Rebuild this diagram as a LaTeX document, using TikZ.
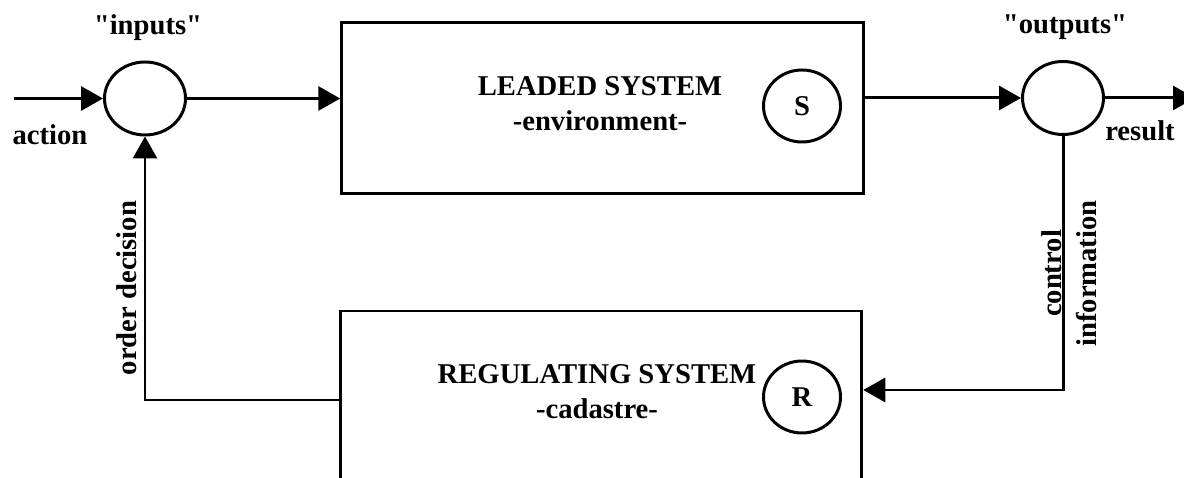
\documentclass[tikz,border=0pt]{standalone}
\usepackage{fontspec}
\setmainfont{Liberation Serif}[Ligatures=TeXOff]
\usetikzlibrary{arrows.meta,shapes.geometric}

\begin{document}
\begin{tikzpicture}[
    every node/.style={font=\bfseries\fontsize{16.3}{20}\selectfont},
    flow/.style={line width=1.7pt,-{Triangle[length=0.44cm,width=0.48cm]}},
    sysbox/.style={draw,line width=1.7pt,rectangle,minimum width=10.43cm,inner sep=0pt},
    junction/.style={draw,line width=1.7pt,ellipse,minimum width=1.62cm,minimum height=1.46cm,inner sep=0pt},
    tag/.style={draw,line width=1.7pt,ellipse,minimum width=1.54cm,minimum height=1.44cm,inner sep=0pt}
]
    \useasboundingbox (0,0) rectangle (23.68,9.56);

    % Leaded system
    \node[sysbox,minimum height=3.42cm] (leaded) at (12.05,7.40) {};
    \node[align=center] (leadedtxt) at (12.0,7.48) {LEADED SYSTEM\\-environment-};
    \node[tag] (S) at (16.04,7.44) {S};

    % Regulating system (runs off the bottom)
    \node[sysbox,minimum height=4.2cm] (regul) at (12.02,1.24) {};
    \node[align=center] (regultxt) at (11.94,1.72) {REGULATING SYSTEM\\-cadastre-};
    \node[tag] (R) at (16.04,1.62) {R};

    % Inputs and outputs
    \node[junction] (in) at (2.90,7.59) {};
    \node (intxt) at (2.96,9.01) {"inputs"};
    \node[junction] (out) at (21.26,7.60) {};
    \node (outtxt) at (21.30,9.01) {"outputs"};

    \coordinate (act) at (0.28,7.59);
    \coordinate (res) at (23.9,7.60);
    \coordinate (ctrl) at (21.32,1.76);
    \coordinate (dec) at (2.88,1.56);

    % Flow
    \draw[flow] (act) -- (in);
    \draw[flow] (in.east) -- (in.east -| leaded.west);
    \draw[flow] (out.west -| leaded.east) -- (out.west);
    \draw[flow] (out.east) -- (res);
    \draw[flow] (out.south) |- (ctrl -| regul.east);
    \draw[flow] (regul.west |- dec) -| (in.south);

    % Labels
    \node (acttxt) at (1.0,6.86) {action};
    \node (restxt) at (22.8,6.94) {result};
    \node[rotate=90] (dectxt) at (2.54,3.80) {order decision};
    \node[rotate=90,align=center] (ctrltxt) at (21.39,4.09) {control\\information};
\end{tikzpicture}
\end{document}
